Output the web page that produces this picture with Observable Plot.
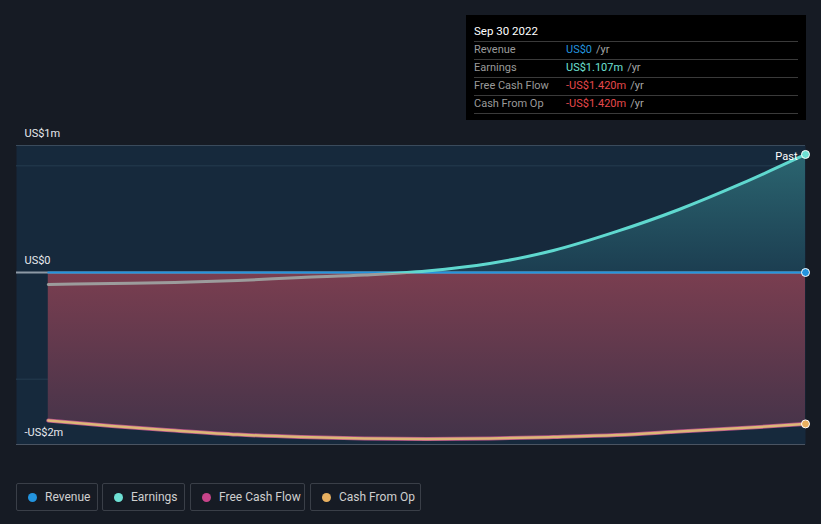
<!DOCTYPE html>
<html>
<head>
<meta charset="utf-8">
<script src="https://cdn.jsdelivr.net/npm/d3@7"></script>
<script src="https://cdn.jsdelivr.net/npm/@observablehq/plot@0.6"></script>
<style>
  html, body { margin: 0; padding: 0; background: #161b24; }
  body { font-family: Roboto, "Open Sans", sans-serif; }
  #wrap { position: relative; width: 821px; height: 524px; background: #161b24; overflow: hidden; }
  #chart { position: absolute; left: 0; top: 0; }
  #tip { position: absolute; left: 466px; top: 15px; width: 340px; height: 105px; background: #000; box-sizing: border-box; padding: 9px 8px 0 8px; font-size: 11px; }
  #tip .title { color: #fff; font-size: 11.5px; height: 17px; line-height: 14px; border-bottom: 1px solid #3a3a3a; }
  #tip .row { height: 17px; line-height: 16px; border-bottom: 1px solid #3a3a3a; display: flex; }
  #tip .lab { width: 92px; color: #9a9a9a; }
  #tip .unit { color: #a6a6a6; margin-left: 4px; }
  #legend { position: absolute; left: 16px; top: 483px; display: flex; }
  .item { height: 28px; box-sizing: border-box; border: 1px solid #3a3f48; border-radius: 2px; display: flex; align-items: center; padding: 0 0 0 11px; color: #cfcfcf; font-size: 12px; margin-right: 4px; white-space: nowrap; }
  .item:nth-child(1) { width: 82px; }
  .item:nth-child(2) { width: 83px; margin-right: 5px; }
  .item:nth-child(3) { width: 115px; margin-right: 5px; }
  .item:nth-child(4) { width: 111px; }
  .item .sw { width: 9px; height: 9px; border-radius: 50%; margin-right: 8px; flex: none; }
</style>
</head>
<body>
<div id="wrap">
  <div id="chart"></div>
  <div id="tip"></div>
  <div id="legend"></div>
</div>
<script>
// ---- data ----
const periods = ["2019-09-30","2019-12-31","2020-03-31","2020-06-30","2020-09-30","2020-12-31","2021-03-31","2021-06-30","2021-09-30","2021-12-31","2022-03-31","2022-06-30","2022-09-30"];
const revenue = [0,0,0,0,0,0,0,0,0,0,0,0,0];
const earnings = [-0.113,-0.103,-0.094,-0.075,-0.047,-0.023,0.014,0.084,0.206,0.385,0.591,0.835,1.107];
const freeCashFlow = [-1.388,-1.44,-1.482,-1.52,-1.543,-1.557,-1.562,-1.557,-1.543,-1.524,-1.492,-1.459,-1.42];
const cashFromOp = [-1.388,-1.44,-1.482,-1.52,-1.543,-1.557,-1.562,-1.557,-1.543,-1.524,-1.492,-1.459,-1.42];
const yTicks = [1.191, 0, -1.613];
const yTickLabels = ["US$1m", "US$0", "-US$2m"];
const gridValues = [1, -1];
const xStart = "2019-08-15";
const seriesNames = ["Revenue", "Earnings", "Free Cash Flow", "Cash From Op"];
const seriesColors = ["#2394df", "#6ee0d4", "#c8448a", "#e8b060"];
const tipDate = "Sep 30 2022";
const tipValues = ["US$0", "US$1.107m", "-US$1.420m", "-US$1.420m"];
const tipColors = ["#2394df", "#6ee0d4", "#e5484b", "#e5484b"];

// ---- table ----
const data = periods.map((p, i) => ({
  date: new Date(p), rev: revenue[i], earn: earnings[i], fcf: freeCashFlow[i], cfo: cashFromOp[i]
}));
const last = data[data.length - 1];
const yDomain = [yTicks[2], yTicks[0]];

const W = 821, H = 524;
const plot = Plot.plot({
  width: W, height: H,
  marginLeft: 16, marginRight: 16, marginTop: 145, marginBottom: 80,
  style: { background: "transparent", fontFamily: "Roboto, sans-serif" },
  x: { type: "utc", domain: [new Date(xStart), last.date], axis: null },
  y: { domain: yDomain, axis: null },
  marks: [
    Plot.frame({ fill: "#16293c", stroke: null }),
    Plot.ruleY(gridValues, { stroke: "#1f3548", strokeWidth: 1.5 }),
    Plot.ruleY([yTicks[0]], { stroke: "#3a4b5c", strokeWidth: 1 }),
    Plot.ruleY([yTicks[2]], { stroke: "#4a5462", strokeWidth: 1 }),
    Plot.areaY(data, { x: "date", y1: 0, y2: d => Math.max(0, d.earn), fill: "url(#tealGrad)", curve: "monotone-x" }),
    Plot.areaY(data, { x: "date", y1: 0, y2: "cfo", fill: "url(#redGrad)", curve: "monotone-x" }),
    Plot.ruleY([0], { stroke: "#8d99a5", strokeWidth: 2 }),
    Plot.lineY(data, { x: "date", y: "rev", stroke: seriesColors[0], strokeWidth: 2 }),
    Plot.lineY(data, { x: "date", y: "earn", stroke: "url(#earnStroke)", strokeWidth: 3, curve: "monotone-x" }),
    Plot.lineY(data, { x: "date", y: "fcf", stroke: "#b8558a", strokeWidth: 4, curve: "monotone-x" }),
    Plot.lineY(data, { x: "date", y: "cfo", stroke: "#dcb777", strokeWidth: 2.5, curve: "monotone-x" }),
    Plot.dot([last], { x: "date", y: "earn", r: 4, fill: seriesColors[1], stroke: "#fff", strokeWidth: 1 }),
    Plot.dot([last], { x: "date", y: "rev", r: 4, fill: seriesColors[0], stroke: "#fff", strokeWidth: 1 }),
    Plot.dot([last], { x: "date", y: "cfo", r: 4, fill: seriesColors[3], stroke: "#fff", strokeWidth: 1 }),
    Plot.text([last], { x: "date", y: "earn", text: () => "Past", textAnchor: "end", dx: -8, dy: 2, fill: "#ffffff", fontSize: 11 }),
    Plot.text(yTicks, { y: d => d, text: (d, i) => yTickLabels[i], frameAnchor: "left", textAnchor: "start", dx: 8, dy: -12, fill: "#e8eaee", fontSize: 11 })
  ]
});

// gradients
const y0 = plot.scale("y").apply(0);
const svg = d3.select(plot);
const defs = svg.insert("defs", ":first-child");
const red = defs.append("linearGradient").attr("id", "redGrad").attr("x1", 0).attr("y1", 0).attr("x2", 0).attr("y2", 1);
red.append("stop").attr("offset", 0).attr("stop-color", "#7a3e50");
red.append("stop").attr("offset", 1).attr("stop-color", "#433349");
const teal = defs.append("linearGradient").attr("id", "tealGrad").attr("x1", 0).attr("y1", 0).attr("x2", 0).attr("y2", 1);
teal.append("stop").attr("offset", 0).attr("stop-color", "#2b6570");
teal.append("stop").attr("offset", 1).attr("stop-color", "#1c3e51");
const es = defs.append("linearGradient").attr("id", "earnStroke").attr("gradientUnits", "userSpaceOnUse")
  .attr("x1", 0).attr("y1", 0).attr("x2", 0).attr("y2", H);
es.append("stop").attr("offset", y0 / H).attr("stop-color", "#5fd8cf");
es.append("stop").attr("offset", y0 / H).attr("stop-color", "#9c9c9c");
document.getElementById("chart").appendChild(plot);

// tooltip
const tip = d3.select("#tip");
tip.append("div").attr("class", "title").text(tipDate);
seriesNames.forEach((n, i) => {
  const r = tip.append("div").attr("class", "row");
  r.append("span").attr("class", "lab").text(n);
  r.append("span").style("color", tipColors[i]).text(tipValues[i]);
  r.append("span").attr("class", "unit").text("/yr");
});

// legend
const lg = d3.select("#legend");
seriesNames.forEach((n, i) => {
  const it = lg.append("div").attr("class", "item");
  it.append("span").attr("class", "sw").style("background", seriesColors[i]);
  it.append("span").text(n);
});
</script>
</body>
</html>
